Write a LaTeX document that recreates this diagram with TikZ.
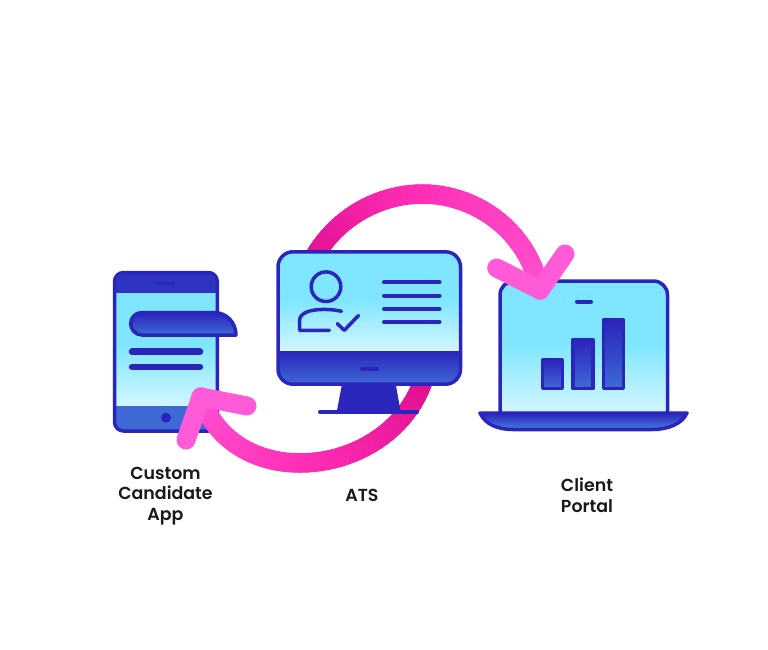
\documentclass[tikz,border=0pt]{standalone}
\usepackage{xcolor}
\usepackage{fontspec}
\setmainfont{Poppins}[UprightFont=* SemiBold]
\definecolor{inkblue}{HTML}{2A25BB}
\definecolor{midblue}{HTML}{3F6AD6}
\definecolor{skyblue}{HTML}{80E6FF}
\definecolor{paleblue}{HTML}{D2F6FF}
\definecolor{darkpink}{HTML}{DC0E8E}
\definecolor{hotpink}{HTML}{FF2DB5}
\definecolor{softpink}{HTML}{FF5AD8}
\tikzset{
  outline/.style={draw=inkblue,line width=3.5pt,line join=round},
  thinbar/.style={draw=inkblue,line width=4pt,line cap=round},
  fatbar/.style={draw=inkblue,line width=6.5pt,line cap=round},
  flowline/.style={line width=19.5pt,line cap=round},
  flowhead/.style={draw=softpink,line width=19pt,line cap=round,line join=round},
  caption/.style={align=center,inner sep=0pt,font=\fontsize{17.4}{20.6}\selectfont,text=black!90}
}
\newcommand{\pinkcurve}[6]{%
  \foreach \i [evaluate=\i as \mixval using \i*100/24] in {1,...,24}{
    \colorlet{segcol}{#6!\mixval!#5}
    \path (#1) .. controls (#2) and (#3) .. (#4)
      coordinate[pos=(\i-1)/24] (segA) coordinate[pos=\i/24] (segB);
    \draw[flowline,segcol] (segA) -- (segB);
  }}
\begin{document}
\begin{tikzpicture}[x=1pt,y=-1pt]
  \useasboundingbox (0,0) rectangle (768,650);
  \fill[white] (0,0) rectangle (768,650);

  \coordinate (atsback) at (309,267);
  \coordinate (toppeak) at (423,194);
  \coordinate (clienttip) at (540,290);
  \coordinate (atsfoot) at (424,378);
  \coordinate (lowpeak) at (300,463);
  \coordinate (phonetip) at (201,397);

  % arcs behind the monitor
  \pinkcurve{atsback}{329.7,222.6}{374,194}{toppeak}{darkpink}{hotpink}
  \pinkcurve{atsfoot}{408,430}{355,463}{lowpeak}{darkpink}{hotpink}

  % monitor
  \fill[inkblue] (342,384) -- (395.7,384) -- (400.7,412) -- (336.7,412) -- cycle;
  \draw[thinbar] (320,412.3) -- (417,412.3);
  \begin{scope}
    \clip[rounded corners=15pt] (278,251.8) rectangle (460.5,384.2);
    \fill[skyblue] (278,251) rectangle (461,301);
    \shade[top color=skyblue,bottom color=paleblue] (278,300) rectangle (461,351);
    \shade[top color=inkblue,bottom color=midblue] (278,351) rectangle (461,385);
  \end{scope}
  \draw[outline,rounded corners=15pt] (278,251.8) rectangle (460.5,384.2);
  \draw[thinbar] (362,368.7) -- (377,368.7);
  \draw[outline] (326,286.7) circle (14.8);
  \draw[outline,line cap=round] (341.5,311.3) .. controls (330,308.5) and (299.5,307) .. (299.5,321)
    -- (299.5,330.3) -- (329.3,330.3);
  \draw[outline,line cap=round] (337.3,323.7) -- (344.3,330.3) -- (358.5,315.5);
  \foreach \y in {282.3,295.7,309,322.3}
    \draw[thinbar] (384,\y) -- (439.5,\y);

  % laptop
  \begin{scope}
    \clip[rounded corners=14pt] (500,281) rectangle (667.5,420);
    \fill[skyblue] (500,281) rectangle (668,345);
    \shade[top color=skyblue,bottom color=paleblue] (500,344) rectangle (668,412);
  \end{scope}
  \draw[outline,rounded corners=14pt] (500,412) -- (500,281) -- (667.5,281) -- (667.5,412);
  \draw[thinbar] (577,301.7) -- (591,301.7);
  \foreach \xa/\ya in {542.5/359.5,572.8/339.8,603.5/320.2}
    \shade[top color=inkblue,bottom color=midblue,draw=inkblue,line width=3.5pt,line join=round]
      (\xa,\ya) rectangle ({\xa+20},388.5);
  \shade[top color=inkblue,bottom color=midblue!85!skyblue,draw=inkblue,line width=3.5pt,line join=round]
    (480,413) -- (687,413) .. controls (682,424) and (668,429.5) .. (652,429.5)
    -- (513,429.5) .. controls (497,429.5) and (485,424) .. cycle;

  % phone
  \begin{scope}
    \clip[rounded corners=9pt] (114.5,272.5) rectangle (217.3,431);
    \fill[skyblue] (114,272) rectangle (218,346);
    \shade[top color=skyblue,bottom color=paleblue] (114,345) rectangle (218,406);
    \fill[inkblue!80!midblue] (114,272) rectangle (218,293);
    \fill[midblue] (114,406) rectangle (218,432);
  \end{scope}
  \draw[outline,rounded corners=9pt] (114.5,272.5) rectangle (217.3,431);
  \draw[thinbar,line width=3pt] (157.5,283.5) -- (174,283.5);
  \fill[inkblue] (166,417.7) circle (5);
  \shade[top color=inkblue,bottom color=midblue,draw=inkblue,line width=3.5pt,line join=round]
    (142,312.5) -- (214,312.5) .. controls (227,312.5) and (236,323) .. (236,335)
    -- (142,335) .. controls (135,335) and (130.7,329) .. (130.7,323.7)
    .. controls (130.7,318) and (135,312.5) .. (142,312.5) -- cycle;
  \draw[fatbar] (132,351.7) -- (200,351.7);
  \draw[fatbar] (132,367) -- (200,367);

  % arcs over the laptop and the phone
  \pinkcurve{toppeak}{470,194}{526,225}{clienttip}{hotpink}{softpink!70!hotpink}
  \draw[flowhead] (496.7,268) -- (clienttip) -- (565,254);
  \pinkcurve{lowpeak}{255,463}{215,440}{phonetip}{hotpink}{softpink!70!hotpink}
  \draw[flowhead] (247,406) -- (phonetip) -- (186,440);

  % labels
  \node[caption] (applabel) at (165.5,496) {Custom\\Candidate\\App};
  \node[caption] (atslabel) at (362,495.5) {ATS};
  \node[caption] (portallabel) at (587,495) {Client\\Portal};
\end{tikzpicture}
\end{document}
